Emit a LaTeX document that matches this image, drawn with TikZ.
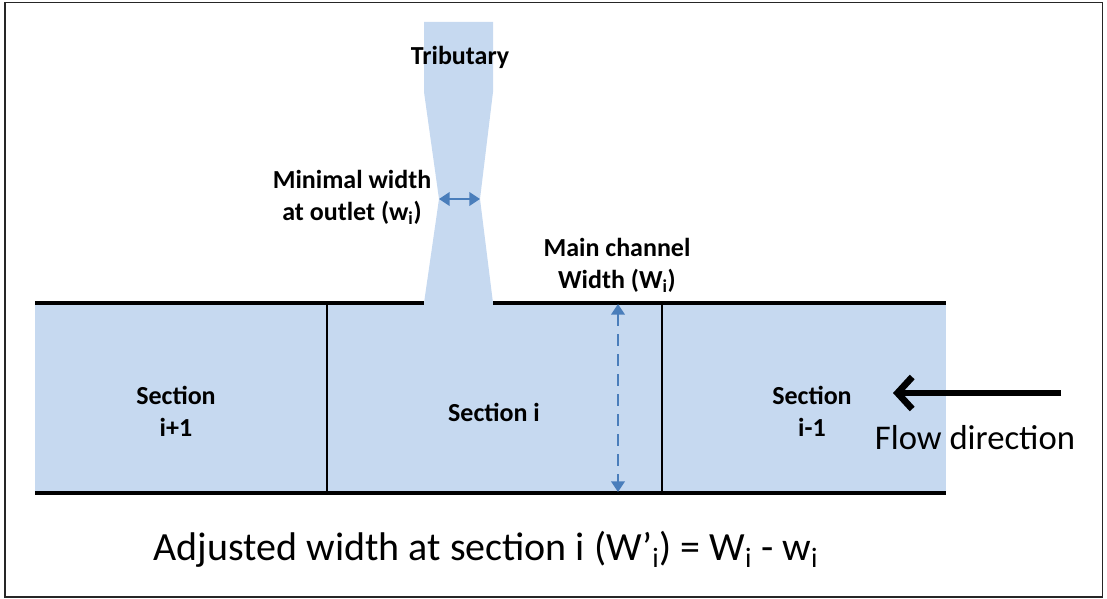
\documentclass[tikz,border=0pt]{standalone}
\usepackage{fontspec}
\setmainfont{Carlito}
\usetikzlibrary{arrows.meta,positioning}
\definecolor{water}{RGB}{198,217,240}
\definecolor{gauge}{RGB}{74,126,187}
\begin{document}
\begin{tikzpicture}[x=0.75pt,y=-0.75pt,line join=miter,
	lbl/.style={font=\fontsize{19.5}{24}\selectfont\bfseries,align=center,inner sep=0pt},
	big/.style={font=\fontsize{26}{30}\selectfont,inner sep=0pt},
	bank/.style={line width=2.4pt},
	gaugearrow/.style={gauge,line width=2pt,{Triangle[length=8pt,width=10pt]}-{Triangle[length=8pt,width=10pt]}}]
	\useasboundingbox (0,0) rectangle (1107,599);
	\draw[line width=1.4pt,black!85] (5,2.5) rectangle (1102.5,597);
	\path
	(35,303) coordinate (TL) (946,303) coordinate (TR)
	(35,493) coordinate (BL) (946,493) coordinate (BR)
	(424,303) coordinate (O_L) (493,303) coordinate (O_R)
	(439,199) coordinate (N_L) (480,199) coordinate (N_R)
	(618,304) coordinate (W_t) (618,492) coordinate (W_b)
	(1061,393) coordinate (F_1) (893,393) coordinate (F_2)
	;
	\foreach \i/\x in {1/327,2/662}{\path (\x,303) coordinate (D_\i t) (\x,493) coordinate (D_\i b);}
	% water
	\fill[water] (TL) rectangle (BR);
	\fill[water] (424,22)--(493,22)--(493,92)--(N_R)--(O_R)--(O_L)--(N_L)--(424,92)--cycle;
	% banks and section limits
	\draw[bank] (TL)--(O_L) (O_R)--(TR) (BL)--(BR);
	\draw[line width=1.8pt] (D_1t)--(D_1b) (D_2t)--(D_2b);
	% widths
	\draw[gaugearrow] (N_L)--(N_R);
	\draw[gaugearrow,dash pattern=on 9pt off 6pt] (W_t)--(W_b);
	\draw[line width=5pt,-{Straight Barb[length=11pt,width=24pt]}] (F_1)--(F_2);
	% labels
	\node[lbl] (trib) at (460,57) {Tributary};
	\node[lbl] (minw) at (352,197) {Minimal width\\at outlet (w\textsubscript{i})};
	\node[lbl] (mainw) at (617,265) {Main channel\\Width (W\textsubscript{i})};
	\node[lbl] (sec1) at (176,411) {Section\\i+1};
	\node[lbl] (sec2) at (494,412) {Section i};
	\node[lbl] (sec3) at (812,411) {Section\\i-1};
	\node[big,anchor=base] (flow) at (975,449) {Flow direction};
	\node[big,anchor=base,font=\fontsize{30}{34}\selectfont] (adj) at (486,560) {Adjusted width at section i (W’\textsubscript{i}) = W\textsubscript{i} - w\textsubscript{i}};
\end{tikzpicture}
\end{document}
